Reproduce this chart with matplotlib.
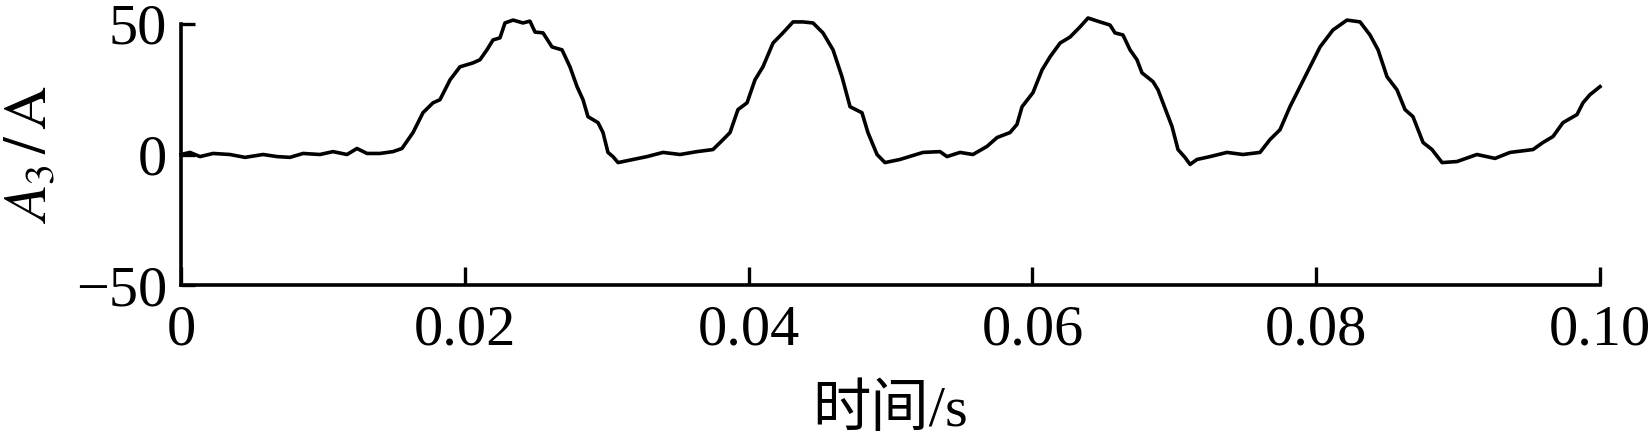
import matplotlib
matplotlib.use("Agg")
import matplotlib.pyplot as plt
import numpy as np

# time in ms, current in A
time_ms = [0, 0.63, 1.34, 2.26, 3.45, 4.51, 5.78, 6.77, 7.68, 8.60, 9.79, 10.71, 11.70, 12.40, 13.11, 14.02, 14.94, 15.57,
           16.35, 17.05, 17.76, 18.25, 18.96, 19.66, 20.58, 21.07, 21.56, 21.99, 22.48, 22.83, 23.40, 24.10, 24.59, 24.95, 25.51, 26.15, 26.85,
           27.41, 27.91, 28.33, 28.68, 29.39, 29.74, 30.09, 30.44, 30.80, 31.85, 32.84, 33.97, 35.17, 36.36, 37.49, 38.20, 38.69, 39.25, 39.89,
           40.45, 41.01, 41.72, 42.42, 43.13, 43.83, 44.54, 45.24, 45.95, 46.58, 47.15, 47.99, 48.41, 49.05,
           49.61, 50.67, 52.29, 53.49, 53.98, 54.90, 55.81, 56.80, 57.51, 58.42, 58.91, 59.27, 60.04, 60.68, 61.24, 61.95, 62.65, 63.36, 63.92,
           64.76, 65.47, 65.82, 66.38, 66.88, 67.37, 67.72, 68.50, 68.85, 69.20, 69.84, 70.26, 70.75, 71.11, 71.60, 72.52, 73.71, 74.84,
           76.04, 76.74, 77.45, 78.15, 78.86, 79.56, 80.27, 81.18, 82.17, 83.09, 83.79, 84.36, 84.99, 85.69, 86.26, 86.82, 87.53, 88.16,
           88.87, 89.92, 91.33, 92.60, 93.66, 95.28, 95.98, 96.69, 97.39, 98.38, 98.80, 99.29, 100.0]
current_A = [0, 0.8, -0.8, 0.4, 0, -1.1, 0, -0.8, -1.1, 0.4, 0, 1.1, 0, 2.3, 0.4, 0.4, 1.1, 2.3,
             8.4, 16.0, 19.8, 21.0, 28.6, 33.6, 35.1, 36.3, 40.1, 43.9, 44.7, 50.4, 51.5, 50.4, 51.1, 46.9, 46.6, 41.2, 40.1,
             33.6, 26.0, 21.0, 14.5, 12.2, 8.4, 0.8, -0.8, -3.1, -1.9, -0.8, 0.8, 0, 1.1, 1.9, 5.7, 8.4, 17.2, 19.8,
             28.6, 33.6, 42.7, 46.6, 50.8, 50.8, 50.4, 46.6, 40.1, 29.8, 18.3, 16.0, 8.4, 0,
             -3.1, -1.9, 0.8, 1.1, -0.8, 0.8, 0, 3.1, 6.5, 8.4, 11.5, 18.3, 23.7, 32.4, 37.4, 42.7, 45.0, 48.9, 52.3,
             50.8, 49.6, 46.6, 45.8, 40.1, 36.3, 31.3, 27.9, 24.8, 19.8, 10.7, 1.9, -1.1, -3.8, -1.9, -0.8, 0.8, 0,
             0.8, 5.7, 9.5, 18.3, 26.0, 33.6, 41.2, 47.7, 51.5, 50.8, 45.8, 40.1, 29.8, 24.8, 17.2, 14.5, 4.6, 1.9,
             -3.1, -2.7, 0, -1.5, 0.8, 1.9, 4.6, 6.9, 12.2, 15.3, 19.8, 22.9, 26.0]
xticks = [0, 0.02, 0.04, 0.06, 0.08, 0.10]
xticklabels = ["0", "0.02", "0.04", "0.06", "0.08", "0.10"]
yticks = [-50, 0, 50]
yticklabels = ["\u221250", "0", "50"]

plt.rcParams['font.family'] = ['Liberation Serif', 'Noto Sans CJK SC']
plt.rcParams['mathtext.fontset'] = 'stix'

fig = plt.figure(figsize=(16.52, 4.42), dpi=100)
ax = fig.add_axes([181/1652, 1-285/442, (1600-181)/1652, (285-24)/442])

t = np.array(time_ms) / 1000.0
ax.plot(t, current_A, color='black', lw=2.6, solid_joinstyle='round', clip_on=False)

ax.set_xlim(0, 0.1)
ax.set_ylim(-50, 50)
ax.set_xticks(xticks)
ax.set_xticklabels(xticklabels)
ax.set_yticks(yticks)
ax.set_yticklabels(yticklabels)
for s in ['top', 'right']:
    ax.spines[s].set_visible(False)
for s in ['left', 'bottom']:
    ax.spines[s].set_linewidth(2.6)
ax.tick_params(axis='x', direction='in', length=13, width=2.4, labelsize=42, pad=14)
ax.tick_params(axis='y', direction='in', length=10, width=2.4, labelsize=42, pad=10)

ax.set_xlabel("时间/s", fontsize=42, labelpad=20)
ax.set_ylabel(r"$\mathit{A}_3\,/\,\mathrm{A}$", fontsize=43, labelpad=12)

fig.savefig("out.png", dpi=100)
